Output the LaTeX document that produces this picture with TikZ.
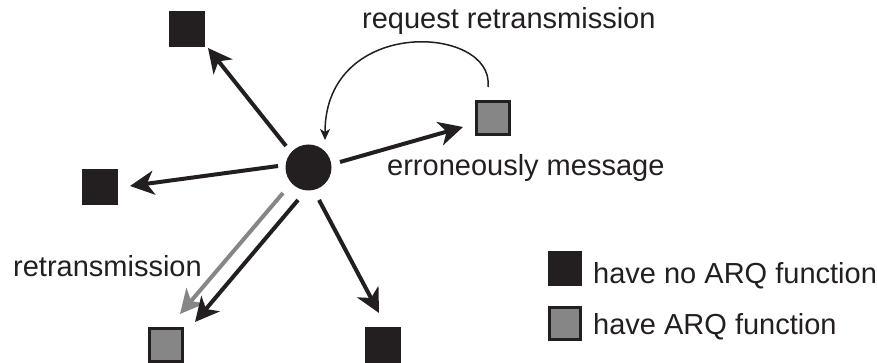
\documentclass[tikz,border=0pt]{standalone}
\usepackage{fontspec}
\setmainfont{Liberation Sans}
\usetikzlibrary{arrows.meta}
\definecolor{ink}{HTML}{231F20}
\definecolor{midgray}{HTML}{868686}
\begin{document}
\begin{tikzpicture}[x=1pt,y=-1pt,
  nodebox/.style={rectangle, draw=ink, line width=3pt, minimum size=33pt, inner sep=0pt},
  blk/.style={nodebox, fill=ink},
  gry/.style={nodebox, fill=midgray},
  legbox/.style={minimum size=31.5pt},
  arr/.style={draw=ink, line width=4pt, -{Stealth[length=24pt,width=24pt,inset=7pt]}},
  garr/.style={arr, draw=midgray},
  thinarr/.style={draw=ink, line width=1.5pt, -{Stealth[length=11pt,width=10pt,inset=3pt]}},
  lbl/.style={anchor=base west, inner sep=0pt, text=ink, font=\fontsize{29}{34}\selectfont}
]
\useasboundingbox (0,0) rectangle (877,363);

% nodes
\node[circle, fill=ink, minimum size=46pt, inner sep=0pt] (C) at (308.5,167.5) {};
\node[blk] (S1) at (187,29) {};
\node[blk] (S2) at (99.5,187.5) {};
\node[gry] (S3) at (493,118.5) {};
\node[blk] (S4) at (382.5,345) {};
\node[gry] (S5) at (165.5,345) {};

% legend
\node[blk, legbox] (L1) at (565,268.5) {};
\node[gry, legbox] (L2) at (565,323.5) {};
\node[lbl] (T1) at (593,283) {have no ARQ function};
\node[lbl] (T2) at (593,334) {have ARQ function};

% labels
\node[lbl] (req) at (362,29) {request retransmission};
\node[lbl] (err) at (387,176) {erroneously message};
\node[lbl] (ret) at (13,276) {retransmission};

% arrows
\draw[arr] ([shift={(-22.5,-21.5)}]C.center) -- ([shift={(21,19)}]S1.center);
\draw[arr] ([shift={(-30.5,-1.5)}]C.center) -- ([shift={(30.5,-1.5)}]S2.center);
\draw[arr] ([shift={(31.5,-5.5)}]C.center) -- ([shift={(-30,8.5)}]S3.center);
\draw[arr] ([shift={(10.5,32.5)}]C.center) -- ([shift={(-3.5,-32)}]S4.center);
\draw[garr] ([shift={(-25.5,25.5)}]C.center) -- ([shift={(14.5,-31)}]S5.center);
\draw[arr] ([shift={(-10.5,32.5)}]C.center) -- ([shift={(29.5,-23)}]S5.center);

% request retransmission curve
\draw[thinarr] ([shift={(-5,-31.5)}]S3.center) .. controls +(7,-62) and +(0,-125) .. ([shift={(16.5,-27.5)}]C.center);
\end{tikzpicture}
\end{document}
